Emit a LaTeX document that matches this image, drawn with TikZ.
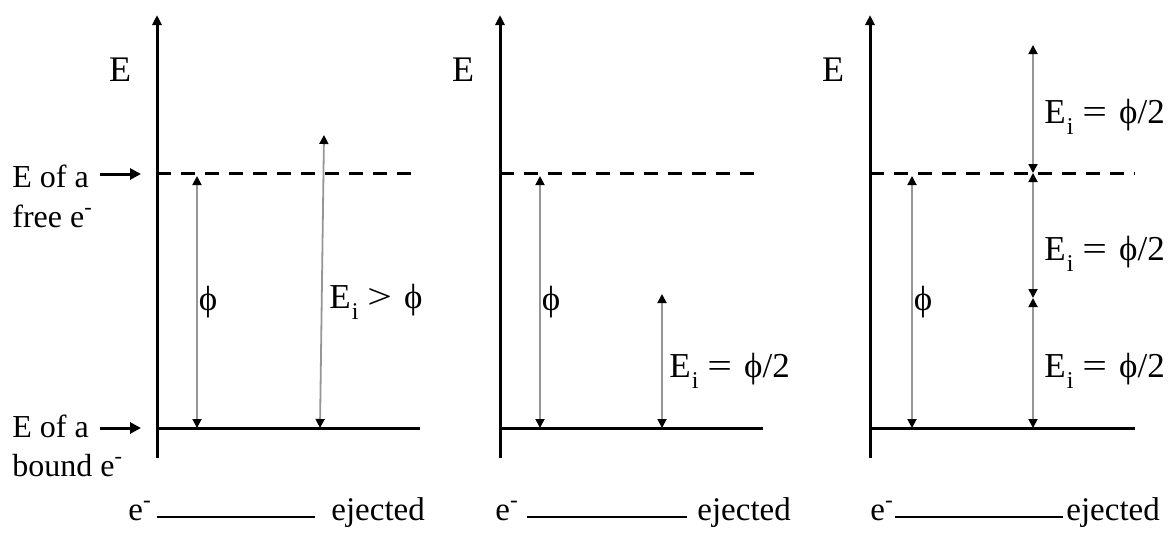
\documentclass[tikz,border=0pt]{standalone}
\usepackage{fontspec}
\usepackage{graphicx}
\setmainfont{Liberation Serif}
\usetikzlibrary{arrows.meta}
\definecolor{arrgray}{RGB}{150,150,150}
\tikzset{
 axisline/.style={line width=1.5pt,-{Triangle[length=5pt,width=4.5pt]}},
 boundlevel/.style={line width=1.5pt},
 freelevel/.style={line width=1.5pt, dash pattern=on 7pt off 5pt},
 garrow/.style={arrgray,line width=0.9pt,{Triangle[length=4.5pt,width=4.5pt,color=black]}-{Triangle[length=4.5pt,width=4.5pt,color=black]}},
 pointer/.style={line width=1.5pt,-{Triangle[length=5.5pt,width=5.5pt]}},
 axlbl/.style={font=\fontsize{18}{20}\selectfont,inner sep=0pt},
 phlbl/.style={font=\fontsize{17.5}{19}\selectfont,inner sep=0pt},
 lbl/.style={font=\fontsize{17.5}{19}\selectfont,inner sep=0pt,anchor=base west},
 btm/.style={font=\fontsize{16.5}{18}\selectfont,inner sep=0pt,anchor=base west},
 side/.style={font=\fontsize{16}{18}\selectfont,inner sep=0pt,anchor=base west},
 blank/.style={line width=0.7pt},
}
\newcommand{\Ei}{E\hspace{0.5pt}\raisebox{-5.5pt}{\fontsize{12}{12}\selectfont i}}
\newcommand{\ph}{ϕ}
\newcommand{\eqn}[1]{\Ei\hspace{4.5pt}\scalebox{1.25}[1]{#1}\hspace{6pt}}
\begin{document}
\begin{tikzpicture}[x=0.5pt,y=-0.5pt]
\useasboundingbox (0,0) rectangle (1174,536);
% axes and levels
\foreach \n/\x/\e in {a/157/420, b/500/763, c/870/1135}{
  \coordinate (\n-bot) at (\x,458);
  \coordinate (\n-top) at (\x,15);
  \coordinate (\n-fl) at (\x,173);
  \coordinate (\n-fr) at (\e,173);
  \coordinate (\n-bl) at (\x,428);
  \coordinate (\n-br) at (\e,428);
  \draw[axisline] (\n-bot) -- (\n-top);
  \draw[freelevel] (\n-fl) -- (\n-fr);
  \draw[boundlevel] (\n-bl) -- (\n-br);
}
% axis labels
\node[axlbl] (Ea) at (120,70) {E};
\node[axlbl] (Eb) at (463,70) {E};
\node[axlbl] (Ec) at (833,70) {E};
% side labels
\node[side] (fr1) at (12,187) {E of a};
\node[side] (fr2) at (12,227) {free e\textsuperscript{-}};
\node[side] (bd1) at (12,437) {E of a};
\node[side] (bd2) at (12,476) {bound e\textsuperscript{-}};
\coordinate (pf0) at (100,174); \coordinate (pf1) at (141,174);
\coordinate (pb0) at (100,428); \coordinate (pb1) at (141,428);
\draw[pointer] (pf0) -- (pf1);
\draw[pointer] (pb0) -- (pb1);
% panel 1
\coordinate (a-p0) at (197,428); \coordinate (a-p1) at (197,176);
\coordinate (a-e0) at (320,428); \coordinate (a-e1) at (324,135);
\draw[garrow] (a-p0) -- (a-p1);
\draw[garrow] (a-e0) -- (a-e1);
\node[phlbl] (a-phi) at (208,302) {\ph};
\node[lbl] (a-ei) at (329,308) {\eqn{>}\ph};
% panel 2
\coordinate (b-p0) at (540,428); \coordinate (b-p1) at (540,176);
\coordinate (b-e0) at (662,428); \coordinate (b-e1) at (662,294);
\draw[garrow] (b-p0) -- (b-p1);
\draw[garrow] (b-e0) -- (b-e1);
\node[phlbl] (b-phi) at (551,302) {\ph};
\node[lbl] (b-ei) at (669,377) {\eqn{=}\ph/2};
% panel 3
\coordinate (c-p0) at (912,428); \coordinate (c-p1) at (912,176);
\coordinate (c-t) at (1033,45); \coordinate (c-f) at (1033,173);
\coordinate (c-m) at (1033,298); \coordinate (c-b) at (1033,428);
\draw[garrow] (c-p0) -- (c-p1);
\draw[garrow] (c-f) -- (c-t);
\draw[garrow] (c-m) -- (c-f);
\draw[garrow] (c-b) -- (c-m);
\node[phlbl] (c-phi) at (923,302) {\ph};
\node[lbl] (c-ei1) at (1044,123) {\eqn{=}\ph/2};
\node[lbl] (c-ei2) at (1044,260) {\eqn{=}\ph/2};
\node[lbl] (c-ei3) at (1044,377) {\eqn{=}\ph/2};
% bottom blanks
\node[btm] (a-e) at (128,520) {e\textsuperscript{-}};
\coordinate (a-u0) at (157,517); \coordinate (a-u1) at (315,517);
\draw[blank] (a-u0) -- (a-u1);
\node[btm] (a-ej) at (331,520) {ejected};
\node[btm] (b-e) at (495,520) {e\textsuperscript{-}};
\coordinate (b-u0) at (527,517); \coordinate (b-u1) at (687,517);
\draw[blank] (b-u0) -- (b-u1);
\node[btm] (b-ej) at (697,520) {ejected};
\node[btm] (c-e) at (870,520) {e\textsuperscript{-}};
\coordinate (c-u0) at (895,517); \coordinate (c-u1) at (1063,517);
\draw[blank] (c-u0) -- (c-u1);
\node[btm] (c-ej) at (1066,520) {ejected};
\end{tikzpicture}
\end{document}
